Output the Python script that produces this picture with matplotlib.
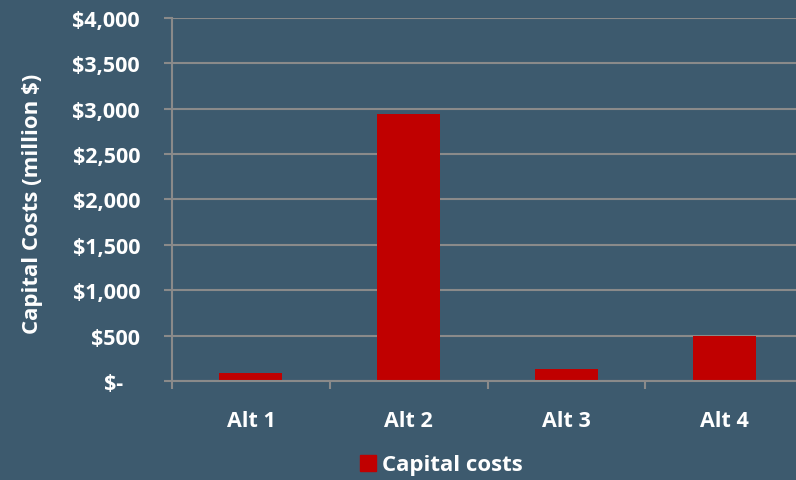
import matplotlib.pyplot as plt
from matplotlib.patches import Patch
from matplotlib.ticker import FuncFormatter, MultipleLocator

categories = ["Alt 1", "Alt 2", "Alt 3", "Alt 4"]
capital_costs = [88, 2935, 130, 497]  # million $
series_name = "Capital costs"

BG = "#3d5a6e"
BAR = "#c00000"
GRID = "#8a8a8a"

plt.rcParams["font.family"] = ["Open Sans", "DejaVu Sans"]
plt.rcParams["font.weight"] = "bold"

fig = plt.figure(figsize=(7.96, 4.81), dpi=100, facecolor=BG)
ax = fig.add_axes([0.2161, 0.2058, 0.7927, 0.7553], facecolor=BG)

x = list(range(len(categories)))
ax.bar(x, capital_costs, width=0.4, color=BAR, zorder=3)

ax.set_xlim(-0.5, len(categories) - 0.5)
ax.set_ylim(0, 4000)
ax.yaxis.set_major_locator(MultipleLocator(500))
ax.yaxis.set_major_formatter(
    FuncFormatter(lambda v, _: "$-   " if v == 0 else f"${v:,.0f}")
)
ax.grid(axis="y", color=GRID, linewidth=1.5, zorder=1)

ax.set_xticks(x)
ax.set_xticklabels(categories)
ax.set_xticks([i - 0.5 for i in range(len(categories) + 1)], minor=True)
ax.tick_params(axis="x", which="major", length=0, pad=21,
               labelsize=15.5, labelcolor="white")
ax.tick_params(axis="x", which="minor", length=6, width=1.5, color=GRID)
ax.tick_params(axis="y", length=6, width=1.5, color=GRID, pad=17,
               labelsize=15.5, labelcolor="white")

for spine in ["top", "right"]:
    ax.spines[spine].set_visible(False)
for spine in ["left", "bottom"]:
    ax.spines[spine].set_color(GRID)
    ax.spines[spine].set_linewidth(1.5)
    ax.spines[spine].set_zorder(4)

ax.set_ylabel("Capital Costs (million $)", fontsize=16, color="white",
              fontweight="bold")
ax.yaxis.set_label_coords(-0.204, 0.491)

fig.legend(
    handles=[Patch(color=BAR, label=series_name)],
    loc="center",
    bbox_to_anchor=(441 / 796, 1 - 466 / 481),
    frameon=False,
    fontsize=16,
    labelcolor="white",
    handlelength=0.75,
    handleheight=0.75,
    handletextpad=0.25,
)

fig.savefig("out.png", dpi=100, facecolor=BG)
